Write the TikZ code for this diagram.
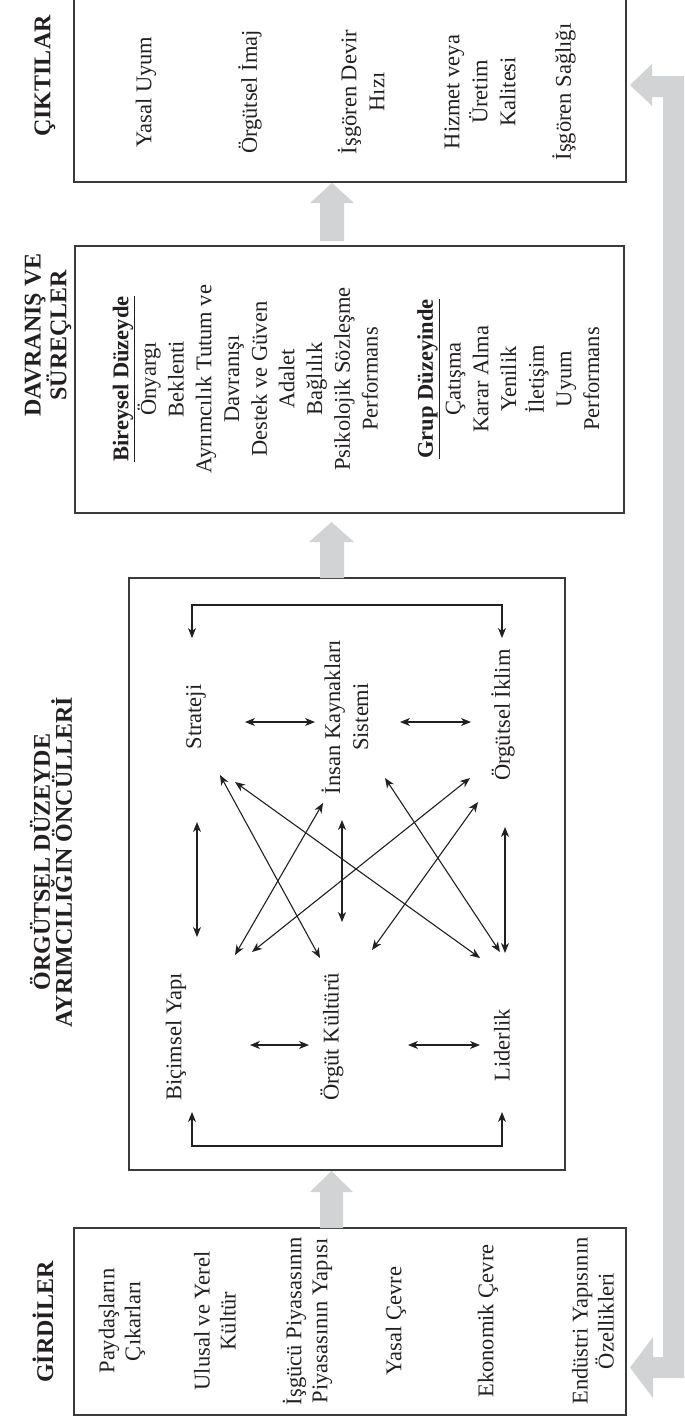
\documentclass[tikz,border=0pt]{standalone}
\usepackage{fontspec}
\setmainfont{Liberation Serif}
\usetikzlibrary{arrows.meta}
\definecolor{boxc}{HTML}{3A3A3A}
\definecolor{ink}{HTML}{231F20}
\definecolor{grayarrow}{HTML}{D1D3D4}
\begin{document}
\begin{tikzpicture}[x=1pt,y=-1pt,
  box/.style={draw=boxc, line width=1.5pt, inner sep=0pt},
  lbl/.style={rotate=90, align=center, inner sep=0pt, text=ink, font=\fontsize{22.5}{28}\selectfont},
  lblg/.style={lbl, font=\fontsize{22.5}{26}\selectfont},
  lbld/.style={lbl, font=\fontsize{22.5}{27.7}\selectfont},
  ttl/.style={rotate=90, align=center, inner sep=0pt, text=ink, font=\fontsize{24}{21}\selectfont\bfseries},
  tip/.tip={Stealth[length=10pt,width=8pt,inset=3pt]},
  dbl/.style={tip-tip, line width=1.1pt, draw=ink},
  garrow/.style={fill=grayarrow, draw=none}
]
\useasboundingbox (0,0) rectangle (685,1419);

% ---------- boxes ----------
\node[box, minimum width=552pt, minimum height=187pt] (inputs) at (350,1321.5) {};
\node[box, minimum width=436pt, minimum height=592pt] (antec) at (347,874) {};
\node[box, minimum width=549pt, minimum height=267pt] (behav) at (349.5,379.5) {};
\node[box, minimum width=552pt, minimum height=190pt] (outputs) at (350,87) {};

% ---------- titles ----------
\node[ttl] (tIn) at (43,1322) {GİRDİLER};
\node[ttl] (tAnt) at (51,862) {ÖRGÜTSEL DÜZEYDE\\AYRIMCILIĞIN ÖNCÜLLERİ};
\node[ttl] (tBeh) at (48,335) {DAVRANIŞ VE\\SÜREÇLER};
\node[ttl] (tOut) at (45,76) {ÇIKTILAR};

% ---------- inputs ----------
\node[lblg] (in1) at (122,1321) {Paydaşların\\Çıkarları};
\node[lblg] (in2) at (215,1321) {Ulusal ve Yerel\\Kültür};
\node[lblg] (in3) at (307.5,1321) {İşgücü Piyasasının\\Piyasasının Yapısı};
\node[lblg] (in4) at (396,1321) {Yasal Çevre};
\node[lblg] (in5) at (488,1321) {Ekonomik Çevre};
\node[lblg] (in6) at (593,1321) {Endüstri Yapısının\\Özellikleri};

% ---------- outputs ----------
\node[lbl] (out1) at (146,92) {Yasal Uyum};
\node[lbl] (out2) at (250,92) {Örgütsel İmaj};
\node[lbl] (out3) at (361,92) {İşgören Devir\\Hızı};
\node[lbl] (out4) at (480,92) {Hizmet veya\\Üretim\\Kalitesi};
\node[lbl] (out5) at (564,92) {İşgören Sağlığı};

% ---------- behaviours ----------
\node[lbld] (beh) at (356,379) {\underline{\textbf{Bireysel Düzeyde}}\\Önyargı\\Beklenti\\Ayrımcılık Tutum ve\\Davranışı\\Destek ve Güven\\Adalet\\Bağlılık\\Psikolojik Sözleşme\\Performans\\[27.7pt]\underline{\textbf{Grup Düzeyinde}}\\Çatışma\\Karar Alma\\Yenilik\\İletişim\\Uyum\\Performans};

% ---------- antecedents ----------
\node[lbl] (B) at (176,1037) {Biçimsel Yapı};
\node[lbl] (O) at (332,1037) {Örgüt Kültürü};
\node[lbl] (L) at (502,1045) {Liderlik};
\node[lbl] (S) at (196,717) {Strateji};
\node[lbl] (I) at (345,717) {İnsan Kaynakları\\Sistemi};
\node[lbl] (C) at (503,715) {Örgütsel İklim};

\coordinate (BO1) at (250,1045); \coordinate (BO2) at (309,1045);
\coordinate (OL1) at (408,1045); \coordinate (OL2) at (480,1045);
\coordinate (SI1) at (245,722);  \coordinate (SI2) at (315,722);
\coordinate (IC1) at (400,722);  \coordinate (IC2) at (471,722);
\coordinate (BS1) at (197,937);  \coordinate (BS2) at (197,822);
\coordinate (OI1) at (342,922);  \coordinate (OI2) at (342,820);
\coordinate (LC1) at (505,953);  \coordinate (LC2) at (505,827);
\coordinate (SO1) at (220,775);  \coordinate (SO2) at (320,958);
\coordinate (SL1) at (235,782);  \coordinate (SL2) at (480,958);
\coordinate (IB1) at (323,803);  \coordinate (IB2) at (235,955);
\coordinate (CB1) at (470,778);  \coordinate (CB2) at (252,952);
\coordinate (IL1) at (385,778);  \coordinate (IL2) at (500,952);
\coordinate (CO1) at (478,802);  \coordinate (CO2) at (372,950);
\coordinate (BL1) at (192,1112); \coordinate (BL2) at (192,1146);
\coordinate (BL3) at (502,1146); \coordinate (BL4) at (502,1112);
\coordinate (SC1) at (192,638);  \coordinate (SC2) at (192,605);
\coordinate (SC3) at (502,605);  \coordinate (SC4) at (502,638);

\draw[dbl] (BO1) -- (BO2);
\draw[dbl] (OL1) -- (OL2);
\draw[dbl] (SI1) -- (SI2);
\draw[dbl] (IC1) -- (IC2);
\draw[dbl] (BS1) -- (BS2);
\draw[dbl] (OI1) -- (OI2);
\draw[dbl] (LC1) -- (LC2);
\draw[dbl] (SO1) -- (SO2);
\draw[dbl] (SL1) -- (SL2);
\draw[dbl] (IB1) -- (IB2);
\draw[dbl] (CB1) -- (CB2);
\draw[dbl] (IL1) -- (IL2);
\draw[dbl] (CO1) -- (CO2);
\draw[dbl] (BL1) -- (BL2) -- (BL3) -- (BL4);
\draw[dbl] (SC1) -- (SC2) -- (SC3) -- (SC4);

% ---------- gray arrows ----------
\fill[garrow] (320,1228) -- (320,1192) -- (310,1192) -- (331.5,1171) -- (353,1192) -- (343,1192) -- (343,1228) -- cycle;
\fill[garrow] (320,578) -- (320,542) -- (309,542) -- (331.5,522) -- (354,542) -- (344,542) -- (344,578) -- cycle;
\fill[garrow] (320,241) -- (320,203) -- (310,203) -- (332,183) -- (354,203) -- (344,203) -- (344,241) -- cycle;
\fill[garrow] (630,1367.5) -- (653,1337) -- (653,1357) -- (663,1357) -- (663,97) -- (652,97) -- (652,106) -- (630,85) -- (652,64) -- (652,76) -- (684,76) -- (684,1378) -- (653,1378) -- (653,1398) -- cycle;
\end{tikzpicture}
\end{document}
